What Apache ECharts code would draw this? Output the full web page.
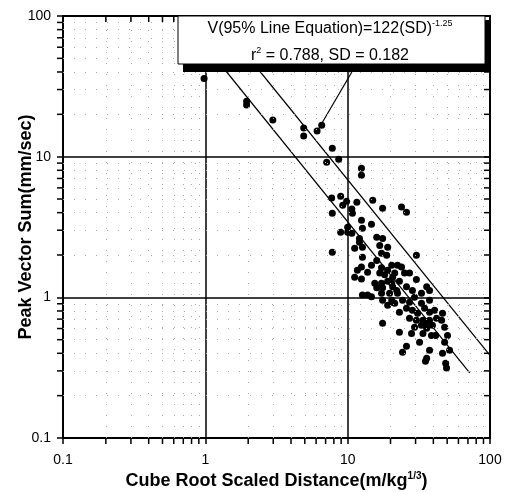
<!DOCTYPE html>
<html>
<head>
<meta charset="utf-8">
<script src="https://cdn.jsdelivr.net/npm/echarts@6/dist/echarts.min.js"></script>
<style>
  html, body { margin: 0; padding: 0; background: #fff; }
  #chart { width: 506px; height: 492px; }
</style>
</head>
<body>
<div id="chart"></div>
<script>
// scaled distance (m/kg^1/3), peak vector sum (mm/sec)
const points = [
  [0.98, 36], [1.95, 24.8], [1.95, 23.3], [2.98, 18.2], [4.91, 16.0], [4.91, 14.0],
  [6.1, 15.2], [6.57, 16.7], [7.8, 11.5], [8.65, 9.6], [7.12, 9.14], [12.5, 8.28],
  [12.5, 7.38], [8.93, 5.24], [7.72, 5.08], [9.23, 4.52], [9.84, 4.82], [11.6, 4.74],
  [15.0, 4.9], [17.6, 4.3], [23.9, 4.38], [25.9, 4.03], [10.7, 4.24], [10.8, 3.96],
  [7.8, 3.96], [12.5, 3.53], [14.7, 3.31], [12.7, 3.1], [10.0, 3.15], [10.0, 2.9],
  [10.7, 2.86], [8.93, 2.9], [12.1, 2.62], [16.0, 2.67], [17.6, 2.62], [16.8, 2.34],
  [19.1, 2.27], [12.7, 2.27], [11.2, 2.23], [7.8, 2.09], [12.1, 2.46], [12.7, 1.93],
  [18.8, 1.99], [17.3, 2.06], [16.0, 1.83], [14.7, 1.69], [12.5, 1.64], [11.7, 1.56],
  [17.3, 1.62], [19.1, 1.56], [20.4, 1.69], [22.4, 1.69], [11.2, 1.39], [12.5, 1.35],
  [13.8, 1.51], [16.8, 1.49], [18.2, 1.45], [20.7, 1.39], [15.5, 1.26], [17.3, 1.26],
  [19.1, 1.30], [16.0, 1.17], [17.6, 1.17], [20.7, 1.19], [22.1, 1.12], [17.3, 1.07],
  [19.7, 1.07], [12.7, 1.04], [13.8, 1.04], [14.7, 1.01], [17.6, 0.953], [20.4, 0.953],
  [19.1, 0.877], [21.4, 0.907], [23.1, 0.782], [17.6, 0.653], [30.4, 1.99], [23.9, 1.64],
  [21.4, 1.49], [25.1, 1.49], [27.2, 1.49], [30.4, 1.34], [35.9, 1.19], [20.4, 1.26],
  [23.1, 1.30], [25.9, 1.19], [28.5, 1.12], [33.0, 1.07], [37.6, 1.12], [22.4, 1.07],
  [20.7, 0.922], [24.3, 0.953], [27.2, 0.922], [29.5, 1.00], [33.0, 0.907], [37.6, 0.953],
  [25.9, 0.835], [28.5, 0.808], [31.0, 0.770], [34.7, 0.835], [37.6, 0.782], [40.8, 0.808],
  [46.4, 0.770], [27.2, 0.709], [30.4, 0.686], [33.8, 0.686], [37.6, 0.686], [42.1, 0.709],
  [45.7, 0.686], [29.5, 0.612], [33.0, 0.632], [35.9, 0.602], [39.4, 0.632], [48.0, 0.612],
  [23.1, 0.564], [28.1, 0.554], [33.8, 0.554], [38.8, 0.536], [50.3, 0.536], [35.9, 0.664],
  [41.5, 0.536], [25.9, 0.449], [24.3, 0.407], [32.0, 0.479], [37.6, 0.42], [48.0, 0.479],
  [46.4, 0.401], [52.0, 0.42], [35.9, 0.369], [35.2, 0.351], [48.8, 0.34], [49.5, 0.315]
];

// 95% line, mean line and the label pointer, end points
const upperLine = [[1.17, 100], [100, 0.386]];
const meanLine = [[0.68, 100], [72, 0.29]];
const pointerLine = [[10.7, 40], [6.05, 14.9]];

const minorTicks = [0.2, 0.3, 0.4, 0.5, 0.6, 0.7, 0.8, 0.9,
                    2, 3, 4, 5, 6, 7, 8, 9,
                    20, 30, 40, 50, 60, 70, 80, 90];

const font = 'Liberation Sans, Arial, sans-serif';

const chart = echarts.init(document.getElementById('chart'));

function tickSeries(data, size, offset) {
  return {
    type: 'scatter',
    data: data,
    symbol: 'rect',
    symbolSize: size,
    symbolOffset: offset,
    clip: false,
    silent: true,
    z: 5,
    itemStyle: { color: '#000', opacity: 1 }
  };
}

const axisBase = {
  type: 'log',
  logBase: 10,
  min: 0.1,
  max: 100,
  axisLine: { show: true, onZero: false, lineStyle: { color: '#000', width: 2 } },
  axisTick: { show: true, length: 6, lineStyle: { color: '#000', width: 1.5 } }
};

chart.setOption({
  animation: false,
  backgroundColor: '#fff',
  grid: { left: 63, right: 16, top: 16, bottom: 54, outerBoundsMode: 'none', containLabel: false },
  xAxis: [
    Object.assign({}, axisBase, {
      position: 'bottom',
      name: '{a|Cube Root Scaled Distance(m/kg}{s|1/3}{a|)}',
      nameLocation: 'middle',
      nameGap: 33,
      nameMoveOverlap: false,
      nameTextStyle: {
        rich: {
          a: { fontFamily: font, fontSize: 18, fontWeight: 'bold', color: '#000', lineHeight: 21 },
          s: { fontFamily: font, fontSize: 10, fontWeight: 'bold', color: '#000', lineHeight: 10, verticalAlign: 'top' }
        }
      },
      axisLabel: { margin: 15, fontFamily: font, fontSize: 14, color: '#000' },
      splitLine: { show: true, lineStyle: { color: '#000', width: 1.5 } }
    }),
    Object.assign({}, axisBase, {
      position: 'top',
      axisTick: { show: true, inside: true, length: 6, lineStyle: { color: '#000', width: 1.5 } },
      axisLabel: { show: false },
      splitLine: { show: false }
    })
  ],
  yAxis: [
    Object.assign({}, axisBase, {
      position: 'left',
      name: 'Peak Vector Sum(mm/sec)',
      nameLocation: 'middle',
      nameGap: 28,
      nameMoveOverlap: false,
      nameTextStyle: { fontFamily: font, fontSize: 18, fontWeight: 'bold', color: '#000' },
      axisLabel: { margin: 12, fontFamily: font, fontSize: 14, color: '#000' },
      splitLine: { show: true, lineStyle: { color: '#000', width: 1.5 } }
    }),
    Object.assign({}, axisBase, {
      position: 'right',
      axisTick: { show: true, inside: true, length: 6, lineStyle: { color: '#000', width: 1.5 } },
      axisLabel: { show: false },
      splitLine: { show: false }
    })
  ],
  series: [
    {
      type: 'line',
      data: upperLine,
      symbol: 'none',
      silent: true,
      z: 3,
      lineStyle: { color: '#000', width: 1.2 },
      markLine: {
        silent: true,
        symbol: ['none', 'none'],
        label: { show: false },
        lineStyle: { color: '#aaa', width: 1, type: [1, 10] },
        data: minorTicks.map(v => ({ xAxis: v })).concat(minorTicks.map(v => ({ yAxis: v })))
      }
    },
    {
      type: 'line',
      data: meanLine,
      symbol: 'none',
      silent: true,
      z: 3,
      lineStyle: { color: '#000', width: 1.2 }
    },
    {
      type: 'line',
      data: pointerLine,
      symbol: 'none',
      silent: true,
      z: 3,
      lineStyle: { color: '#000', width: 1.2 }
    },
    {
      type: 'scatter',
      data: points,
      symbol: 'circle',
      symbolSize: 7,
      silent: true,
      z: 4,
      itemStyle: { color: '#000', opacity: 1 }
    },
    tickSeries(minorTicks.map(v => [v, 0.1]), [1.5, 6], [0, 3]),
    tickSeries(minorTicks.map(v => [v, 100]), [1.5, 6], [0, 3]),
    tickSeries(minorTicks.map(v => [0.1, v]), [6, 1.5], [-3, 0]),
    tickSeries(minorTicks.map(v => [100, v]), [6, 1.5], [-3, 0])
  ],
  graphic: [
    { type: 'rect', z: 100, shape: { x: 183, y: 20, width: 307, height: 52 }, style: { fill: '#000' } },
    { type: 'rect', z: 101, shape: { x: 178, y: 16, width: 307, height: 48 },
      style: { fill: '#fff', stroke: '#000', lineWidth: 1 } },
    { type: 'text', z: 102, x: 330, y: 29,
      style: {
        text: '{a|V(95% Line Equation)=122(SD)}{s|-1.25}',
        align: 'center', verticalAlign: 'middle',
        rich: {
          a: { fontFamily: font, fontSize: 16, fill: '#000', lineHeight: 19 },
          s: { fontFamily: font, fontSize: 9, fill: '#000', lineHeight: 9, verticalAlign: 'top' }
        }
      }
    },
    { type: 'text', z: 102, x: 330, y: 56,
      style: {
        text: '{a|r}{s|2}{a| = 0.788, SD = 0.182}',
        align: 'center', verticalAlign: 'middle',
        rich: {
          a: { fontFamily: font, fontSize: 16, fill: '#000', lineHeight: 19 },
          s: { fontFamily: font, fontSize: 9, fill: '#000', lineHeight: 9, verticalAlign: 'top' }
        }
      }
    }
  ]
});
</script>
</body>
</html>
